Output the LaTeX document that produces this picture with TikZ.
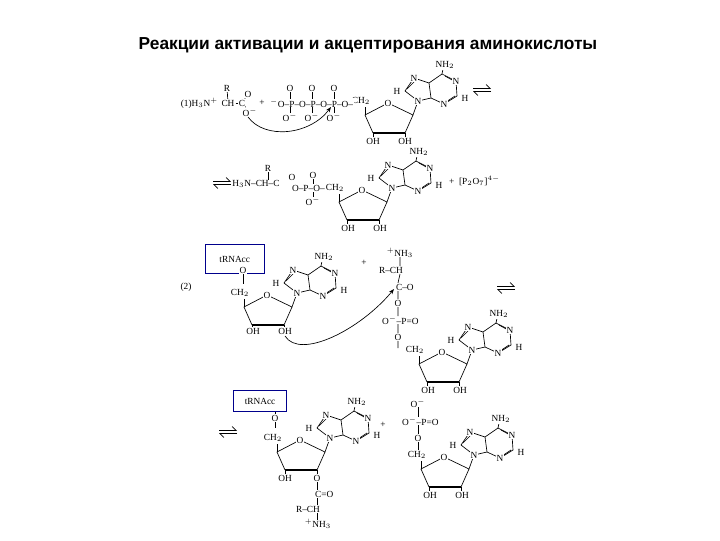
\documentclass[tikz,border=0pt]{standalone}
\usepackage{fontspec}
\setmainfont{Liberation Serif}
\newfontfamily\ttl{Liberation Sans}
\usetikzlibrary{arrows.meta}
\tikzset{
 lab/.style={font=\fontsize{7}{8}\selectfont,inner sep=0.6pt,fill=white},
 bd/.style={line width=0.5pt},
 tbox/.style={draw=blue!55!black,line width=0.6pt,minimum width=44pt,minimum height=22pt,anchor=north west,font=\fontsize{7}{8}\selectfont},
 pics/eqarr/.style={code={
  \draw[line width=0.5pt,-{Straight Barb[left,length=3pt]}] (-9,-1.5)--(9,-1.5);
  \draw[line width=0.5pt,-{Straight Barb[left,length=3pt]}] (9,1.5)--(-9,1.5);}},
 pics/adeno/.style={code={
  \draw[bd] (-15,30)--(-23,12)--(0,0)--(25,12)--(17,30);
  \draw[line width=1.8pt] (-15,30)--(17,30);
  \draw[bd] (-15,30)--(-15,35) (17,30)--(17,35) (-23,12)--(-23,4);
  \node[lab] at (-27,-2) {CH$_2$};
  \node[lab] at (0,0) {O};
  \draw[bd] (25,12)--(30,-2);
  \draw[bd] (30,-2)--(17,-12)--(26,-25)--(41,-20)--(43,-5)--cycle;
  \draw[bd] (41,-20)--(54,-29)--(68,-22)--(69,-7)--(56,1)--(43,-5);
  \draw[bd] (19,-14)--(27,-22) (57,-27)--(66,-22) (58,-1)--(67,-7) (54,-29)--(55,-34);
  \node[lab] at (30,-2) {N}; \node[lab] at (26,-25) {N};
  \node[lab] at (68,-22) {N}; \node[lab] at (56,1) {N};
  \node[lab] at (57,-38) {NH$_2$};
  \node[lab] at (9,-12) {H}; \node[lab] at (77,-5) {H};
 }}
}
\begin{document}
\begin{tikzpicture}[x=0.75pt,y=-0.75pt]
\useasboundingbox (0,0) rectangle (720,540);
\node[font=\ttl\bfseries\fontsize{13}{15}\selectfont] (title) at (368,45) {Реакции активации и акцептирования аминокислоты};

% ---------- row 1
\pic at (388,103) {adeno};
\node[lab] at (373,141) {OH}; \node[lab] at (405,141) {OH};
\node[lab,anchor=east] (aa1) at (219,103) {(1)H$_3$N$^+$};
\node[lab] (ch1) at (228,103) {CH};
\node[lab] (r1) at (227,88) {R};
\draw[bd] (r1)--(ch1);
\node[lab] (c1) at (242,103) {C};
\node[lab] (o1a) at (248,94) {O};
\node[lab] (o1b) at (250,112) {O$^-$};
\draw[bd] (ch1)--(c1); \draw[bd] (c1)--(o1a); \draw[bd] (c1)--(o1b);
\node[lab] (plus1) at (262,103) {+};
\node[lab,anchor=west] (tp) at (269,103) {$^-$O–P–O–P–O–P–O–};
\foreach \x in {290,312,334}{
 \node[lab] at (\x,88) {O}; \node[lab] at (\x,117) {O$^-$};
 \draw[bd] (\x,92)--(\x,99) (\x,107)--(\x,113);}
\coordinate (ta) at (248,117); \coordinate (tb) at (331,107);
\draw[line width=0.5pt,-{Stealth[length=4pt]}] (ta) .. controls (265,140) and (310,135) .. (tb);
\pic at (482,90) {eqarr};

% ---------- row 2
\pic at (222,183) {eqarr};
\node[lab] (aa2) at (256,184) {H$_3$N–CH–C};
\node[lab] (r2) at (268,168) {R};
\draw[bd] (r2)--(268,180);
\node[lab] at (292,177) {O};
\node[lab,anchor=west] at (291,188) {O–P–O–};
\node[lab] at (313,175) {O}; \node[lab] at (313,201) {O$^-$};
\draw[bd] (313,179)--(313,184) (313,192)--(313,197);
\pic at (362,190) {adeno};
\node[lab] at (348,228) {OH}; \node[lab] at (380,228) {OH};
\node[lab,anchor=west] at (448,181) {+ \ [P$_2$O$_7$]$^{4-}$};

% ---------- row 3
\node[tbox] (tr1) at (205,244) {tRNAcc};
\node[lab] (o3) at (243,270) {O};
\node[lab] (two) at (186,287) {(2)};
\pic at (267,295) {adeno};
\draw[bd] (o3)--(243,284);
\node[lab] at (253,331) {OH}; \node[lab] at (285,331) {OH};
\node[lab] at (364,263) {+};
\node[lab] (nh3) at (400,253) {$^+$NH$_3$};
\node[lab,anchor=east] (rch) at (404,270) {R–CH};
\node[lab,anchor=west] (c3) at (395,287) {C–O};
\node[lab] (o3b) at (398,303) {O};
\node[lab,anchor=west] (p3) at (381,320) {O$^-$–P=O};
\node[lab] (o3c) at (398,337) {O};
\draw[bd] (400,257)--(400,266) (400,274)--(398,283) (398,291)--(398,299) (398,307)--(398,316) (398,324)--(398,333) (398,341)--(398,348);
\pic at (442,352) {adeno};
\node[lab] at (428,390) {OH}; \node[lab] at (460,390) {OH};
\coordinate (oh3) at (285,336); \coordinate (cc3) at (394,289);
\draw[line width=0.5pt,-{Stealth[length=4pt]}] (oh3) .. controls (300,360) and (360,330) .. (cc3);
\pic at (506,288) {eqarr};

% ---------- row 4
\pic at (228,432) {eqarr};
\node[tbox,minimum width=40pt,minimum height=16pt] (tr2) at (233,390) {tRNAcc};
\node[lab] (o4) at (275,418) {O};
\draw[bd] (275,412)--(275,414) (o4)--(275,428);
\pic at (300,440) {adeno};
\node[lab] at (285,478) {OH};
\node[lab] (o4b) at (317,478) {O};
\node[lab,anchor=west] (c4) at (314,494) {C=O};
\node[lab,anchor=east] (rch4) at (321,509) {R–CH};
\node[lab] (nh4) at (318,524) {$^+$NH$_3$};
\draw[bd] (317,482)--(317,490) (317,498)--(317,505) (317,513)--(317,520);
\node[lab] at (383,425) {+};
\node[lab] at (418,403) {O$^-$};
\node[lab,anchor=west] (p4) at (401,421) {O$^-$–P=O};
\node[lab] at (418,438) {O};
\draw[bd] (418,407)--(418,417) (418,425)--(418,434) (418,442)--(418,450);
\pic at (444,457) {adeno};
\node[lab] at (430,495) {OH}; \node[lab] at (462,495) {OH};
\end{tikzpicture}
\end{document}
